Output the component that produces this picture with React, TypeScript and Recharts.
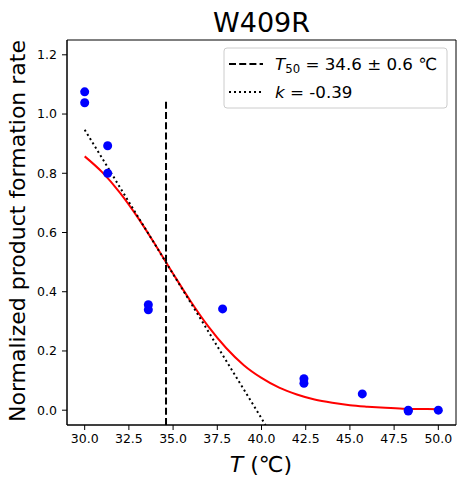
import React from 'react';
import {
  ComposedChart,
  Line,
  Scatter,
  XAxis,
  YAxis,
  ReferenceArea,
} from 'recharts';

// measured rates (blue dots)
const measuredT = [30, 30, 31.3, 31.3, 33.6, 33.6, 37.8, 42.4, 42.4, 45.7, 48.3, 48.3, 50];
const measuredRate = [1.075, 1.038, 0.893, 0.8, 0.356, 0.339, 0.342, 0.106, 0.091, 0.055, 0.0, -0.003, 0.0];

// fitted curve (red)
const fitT = [30, 31, 32, 33, 34, 35, 36, 37, 38, 39, 40, 41, 42, 43, 44, 45, 46, 47, 48, 49, 50];
const fitRate = [
  0.857, 0.803, 0.734, 0.651, 0.558, 0.461, 0.367, 0.282, 0.21, 0.152, 0.109,
  0.076, 0.053, 0.036, 0.025, 0.017, 0.012, 0.008, 0.005, 0.004, 0.003,
];

// T50 marker (dashed) and slope line (dotted)
const t50T = [34.6, 34.6];
const t50Rate = [-0.05, 1.05];
const slopeT = [30, 40.23];
const slopeRate = [0.947, -0.05];

const xTicks = [30, 32.5, 35, 37.5, 40, 42.5, 45, 47.5, 50];
const yTicks = [0, 0.2, 0.4, 0.6, 0.8, 1.0, 1.2];

const FONT = '"DejaVu Sans", sans-serif';

const zip = (xs: number[], ys: number[]) => xs.map((T, i) => ({ T, rate: ys[i] }));

const measuredData = zip(measuredT, measuredRate);
const fitData = zip(fitT, fitRate);
const t50Data = zip(t50T, t50Rate);
const slopeData = zip(slopeT, slopeRate);

const Dot = (props: any) => <circle cx={props.cx} cy={props.cy} r={4.5} fill="#0000ff" />;

export default function App() {
  return (
    <div style={{ position: 'absolute', left: 0, top: 0, width: 464, height: 487, background: '#fff' }}>
      <ComposedChart
        width={464}
        height={487}
        margin={{ top: 40, right: 8, bottom: 0, left: 0 }}
        style={{ fontFamily: FONT }}
      >
        <XAxis
          dataKey="T"
          type="number"
          domain={[29, 51]}
          ticks={xTicks}
          tickFormatter={(v: number) => v.toFixed(1)}
          height={62}
          tickSize={5}
          tickMargin={4}
          stroke="#000"
          tick={{ fill: '#000', fontSize: 12.5, fontFamily: FONT }}
          allowDataOverflow
          label={{
            content: () => (
              <text x={261} y={472} textAnchor="middle" fontSize={22} fontFamily={FONT} fill="#000">
                <tspan fontStyle="italic">T</tspan>
                <tspan> (℃)</tspan>
              </text>
            ),
          }}
        />
        <YAxis
          dataKey="rate"
          type="number"
          domain={[-0.05, 1.25]}
          ticks={yTicks}
          tickFormatter={(v: number) => v.toFixed(1)}
          width={67}
          tickSize={5}
          tickMargin={5}
          stroke="#000"
          tick={{ fill: '#000', fontSize: 12.5, fontFamily: FONT }}
          allowDataOverflow
          label={{
            content: () => (
              <text
                x={17}
                y={231}
                transform="rotate(-90 17 231)"
                textAnchor="middle"
                dominantBaseline="central"
                fontSize={22}
                fontFamily={FONT}
                fill="#000"
              >
                Normalized product formation rate
              </text>
            ),
          }}
        />
        <ReferenceArea x1={29} x2={51} y1={-0.05} y2={1.25} fill="none" stroke="#000" strokeWidth={1} fillOpacity={0} />
        <Scatter data={measuredData} dataKey="rate" shape={Dot} isAnimationActive={false} />
        <Line
          data={fitData}
          dataKey="rate"
          type="monotone"
          stroke="#ff0000"
          strokeWidth={2}
          dot={false}
          isAnimationActive={false}
        />
        <Line
          data={t50Data}
          dataKey="rate"
          type="linear"
          stroke="#000"
          strokeWidth={2}
          strokeDasharray="7 3.2"
          dot={false}
          isAnimationActive={false}
        />
        <Line
          data={slopeData}
          dataKey="rate"
          type="linear"
          stroke="#000"
          strokeWidth={2}
          strokeDasharray="2 3"
          dot={false}
          isAnimationActive={false}
        />
        <text x={261.5} y={32} textAnchor="middle" fontSize={27} fontFamily={FONT} fill="#000">
          W409R
        </text>
        <g>
          <rect x={224} y={48} width={223} height={60} rx={3} fill="#fff" fillOpacity={0.8} stroke="#cccccc" />
          <line x1={229} y1={64} x2={263} y2={64} stroke="#000" strokeWidth={2} strokeDasharray="7 3.2" />
          <line x1={229} y1={92} x2={263} y2={92} stroke="#000" strokeWidth={2} strokeDasharray="2 3" />
          <text x={275} y={70} fontSize={16.7} fontFamily={FONT} fill="#000">
            <tspan fontStyle="italic">T</tspan>
            <tspan fontSize={11.7} dy={3}>50</tspan>
            <tspan dy={-3}> = 34.6 ± 0.6 ℃</tspan>
          </text>
          <text x={275} y={98} fontSize={16.7} fontFamily={FONT} fill="#000">
            <tspan fontStyle="italic">k</tspan>
            <tspan> = -0.39</tspan>
          </text>
        </g>
      </ComposedChart>
    </div>
  );
}
